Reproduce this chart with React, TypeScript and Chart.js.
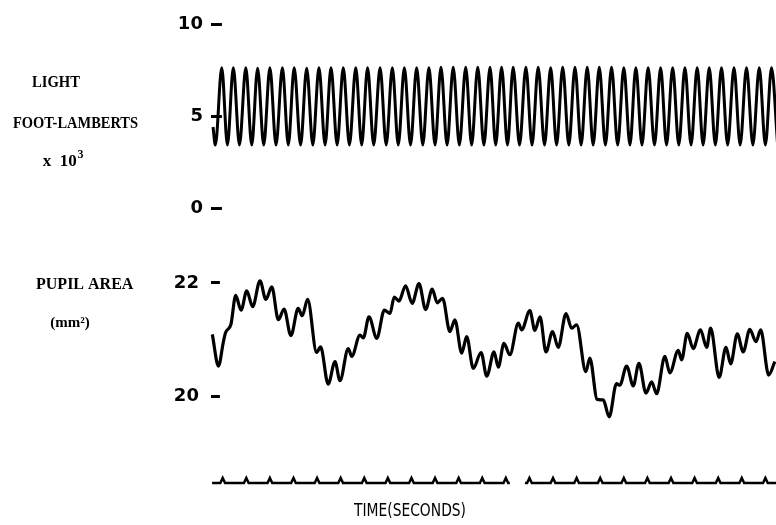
import { useEffect, useRef } from "react";
import { Chart, registerables } from "chart.js";

Chart.register(...registerables);

// ---------- data ----------
// time axis in seconds (one time mark per second)
const timeMin = 0.5;
const timeMax = 24.45;

// LIGHT (foot-lamberts x 10^3): successive turning points of the sinusoidal stimulus
const lightTimes = [
  0.59, 0.69, 0.96, 1.2, 1.45, 1.71, 1.98, 2.23, 2.48, 2.74, 3.0, 3.26, 3.53, 3.78,
  4.03, 4.3, 4.56, 4.82, 5.08, 5.34, 5.59, 5.85, 6.11, 6.37, 6.64, 6.89, 7.14, 7.4,
  7.67, 7.93, 8.19, 8.44, 8.7, 8.96, 9.22, 9.48, 9.74, 10.0, 10.25, 10.51, 10.77, 11.03,
  11.3, 11.55, 11.81, 12.07, 12.33, 12.57, 12.82, 13.07, 13.31, 13.58, 13.85, 14.11,
  14.37, 14.64, 14.9, 15.15, 15.41, 15.67, 15.93, 16.19, 16.45, 16.7, 16.96, 17.22,
  17.48, 17.74, 18.0, 18.26, 18.51, 18.77, 19.03, 19.3, 19.56, 19.81, 20.07, 20.33,
  20.59, 20.85, 21.11, 21.36, 21.62, 21.88, 22.14, 22.4, 22.67, 22.93, 23.2, 23.47,
  23.74, 24.0, 24.26, 24.52,
];
const lightLevels = [
  4.4, 3.42,
  7.62, 3.42, 7.62, 3.42, 7.62, 3.42, 7.6, 3.42, 7.62, 3.42, 7.62, 3.42, 7.62, 3.42, 7.6, 3.42,
  7.62, 3.42, 7.62, 3.42, 7.62, 3.42, 7.62, 3.42, 7.62, 3.42, 7.62, 3.42, 7.62, 3.42, 7.62, 3.42,
  7.62, 3.42, 7.62, 3.42, 7.65, 3.42, 7.65, 3.42, 7.65, 3.42, 7.65, 3.42, 7.65, 3.42, 7.65, 3.42,
  7.65, 3.42, 7.65, 3.42, 7.65, 3.42, 7.62, 3.42, 7.65, 3.42, 7.65, 3.42, 7.65, 3.42, 7.65, 3.42,
  7.65, 3.42, 7.62, 3.42, 7.62, 3.42, 7.62, 3.42, 7.62, 3.42, 7.62, 3.42, 7.62, 3.42, 7.62, 3.42,
  7.62, 3.42, 7.62, 3.42, 7.62, 3.42, 7.62, 3.42, 7.62, 3.42, 7.62, 3.42,
];
const lightTicks = [0, 5, 10];

// PUPIL AREA (mm^2)
const pupilTimes = [
  0.56, 0.82, 1.03, 1.12, 1.35, 1.55, 1.78, 2.02, 2.27, 2.58,
  2.83, 3.08, 3.36, 3.6, 3.89, 4.2, 4.37, 4.6, 4.98, 5.15,
  5.47, 5.76, 5.97, 6.32, 6.47, 6.82, 6.96, 7.2, 7.53, 7.85,
  8.09, 8.27, 8.47, 8.75, 9.03, 9.32, 9.6, 9.88, 10.09, 10.32,
  10.63, 10.84, 11.13, 11.34, 11.62, 11.95, 12.19, 12.5, 12.68, 12.92,
  13.17, 13.53, 13.67, 14.02, 14.23, 14.45, 14.7, 14.98, 15.22, 15.55,
  15.79, 16.0, 16.39, 16.56, 16.87, 17.13, 17.38, 17.69, 17.83, 18.12,
  18.4, 18.64, 18.94, 19.18, 19.39, 19.74, 19.95, 20.31, 20.45, 20.69,
  20.94, 21.25, 21.51, 21.68, 22.04, 22.33, 22.53, 22.81, 23.06, 23.34,
  23.6, 23.8, 24.14, 24.4,
];
const pupilAreas = [
  21.09, 20.53, 20.96, 21.12, 21.27, 21.78, 21.52, 21.86, 21.58, 22.04,
  21.71, 21.93, 21.35, 21.54, 21.07, 21.55, 21.42, 21.71, 20.77, 20.87,
  20.21, 20.61, 20.27, 20.84, 20.7, 21.08, 21.03, 21.4, 21.02, 21.52,
  21.46, 21.75, 21.68, 21.95, 21.64, 21.99, 21.53, 21.89, 21.65, 21.73,
  21.14, 21.35, 20.76, 21.05, 20.49, 20.77, 20.35, 20.78, 20.51, 20.93,
  20.73, 21.29, 21.17, 21.51, 21.16, 21.4, 20.78, 21.14, 20.86, 21.46,
  21.2, 21.26, 20.43, 20.67, 19.94, 19.93, 19.63, 20.22, 20.19, 20.53,
  20.18, 20.58, 20.05, 20.25, 20.04, 20.7, 20.41, 20.81, 20.64, 21.11,
  20.84, 21.17, 20.86, 21.2, 20.33, 20.86, 20.57, 21.1, 20.78, 21.18,
  20.96, 21.17, 20.37, 20.61,
];
const pupilTicks = [20, 22];

// TIME marker trace: one small blip each second, with a break in the trace
const secondMarks = [1, 2, 3, 4, 5, 6, 7, 8, 9, 10, 11, 12, 13, 14, 15, 16, 17, 18, 19, 20, 21, 22, 23, 24];
const markerStart = 0.55;
const markerEnd = 24.45;
const markerGapStart = 13.17;
const markerGapEnd = 13.81;
const markerBlipHalfWidth = 0.1;

// ---------- layout / style ----------
const W = 776;
const H = 525;
const AXIS_W = 210.9;
const INK = "#000";

type Note = { text: string; x: number; y: number; font: string; maxWidth?: number };

function notesPlugin(notes: Note[]) {
  return {
    id: "notes",
    afterDraw(chart: Chart) {
      const ctx = chart.ctx;
      ctx.save();
      ctx.fillStyle = INK;
      ctx.textAlign = "center";
      ctx.textBaseline = "middle";
      for (const n of notes) {
        ctx.font = n.font;
        if (n.maxWidth) ctx.fillText(n.text, n.x, n.y, n.maxWidth);
        else ctx.fillText(n.text, n.x, n.y);
      }
      ctx.restore();
    },
  };
}

const xScale = { type: "linear" as const, min: timeMin, max: timeMax, display: false };

// tick marks point into the plot (negative length), as on the original record
function yAxis(min: number, max: number, ticks: number[], inward: number, pad: number) {
  return {
    type: "linear" as const,
    min,
    max,
    afterBuildTicks: (s: any) => {
      s.ticks = ticks.map((v) => ({ value: v }));
    },
    afterFit: (s: any) => {
      s.width = AXIS_W;
    },
    border: { display: false },
    grid: {
      display: true,
      drawOnChartArea: false,
      drawTicks: true,
      tickLength: -inward,
      tickWidth: 3,
      tickColor: INK,
    },
    ticks: {
      color: INK,
      padding: pad,
      font: { family: "DejaVu Sans", size: 18, weight: "bold" as const },
    },
  };
}

const baseOptions = {
  responsive: false,
  animation: false as const,
  events: [] as any[],
  plugins: { legend: { display: false }, tooltip: { enabled: false } },
};

const typeFont = "bold 16px 'Liberation Serif'";

// canvas placement: light plot area spans page y 24..208, pupil plot area 271.7..424.25
const LIGHT_TOP = -8;
const PUPIL_TOP = 238;
const TIME_TOP = 450;

function lightConfig(): any {
  return {
    type: "line",
    data: {
      datasets: [
        {
          data: lightTimes.map((t, i) => ({ x: t, y: lightLevels[i] })),
          borderColor: INK,
          borderWidth: 3,
          pointRadius: 0,
          cubicInterpolationMode: "monotone",
          clip: false,
          fill: false,
        },
      ],
    },
    options: {
      ...baseOptions,
      layout: { padding: { left: 0, right: 0, top: 32, bottom: 32 } },
      scales: { x: xScale, y: yAxis(0, 10, lightTicks, 11, 19) },
    },
    plugins: [
      notesPlugin([
        { text: "LIGHT", x: 56, y: 83 - LIGHT_TOP, font: typeFont, maxWidth: 48 },
        { text: "FOOT-LAMBERTS", x: 75.5, y: 124 - LIGHT_TOP, font: typeFont, maxWidth: 125 },
        { text: "x  10", x: 59.7, y: 162 - LIGHT_TOP, font: "bold 17px 'Liberation Serif'" },
        { text: "3", x: 80.5, y: 155 - LIGHT_TOP, font: "bold 12px 'Liberation Serif'" },
      ]),
    ],
  };
}

function pupilConfig(): any {
  return {
    type: "line",
    data: {
      datasets: [
        {
          data: pupilTimes.map((t, i) => ({ x: t, y: pupilAreas[i] })),
          borderColor: INK,
          borderWidth: 3.2,
          pointRadius: 0,
          cubicInterpolationMode: "monotone",
          clip: false,
          fill: false,
        },
      ],
    },
    options: {
      ...baseOptions,
      layout: { padding: { left: 0, right: 0, top: 33.7, bottom: 34.75 } },
      scales: { x: xScale, y: yAxis(19.5, 22.2, pupilTicks, 9, 21) },
    },
    plugins: [
      notesPlugin([
        { text: "PUPIL AREA", x: 84.7, y: 284.5 - PUPIL_TOP, font: typeFont, maxWidth: 99 },
        { text: "(mm²)", x: 70, y: 323 - PUPIL_TOP, font: "bold 15px 'Liberation Serif'", maxWidth: 44 },
      ]),
    ],
  };
}

function markerPoints() {
  const pts: { x: number; y: number | null }[] = [{ x: markerStart, y: 0 }];
  let gapDone = false;
  for (const s of secondMarks) {
    if (!gapDone && s > markerGapStart) {
      pts.push({ x: markerGapStart, y: 0 });
      pts.push({ x: (markerGapStart + markerGapEnd) / 2, y: null });
      pts.push({ x: markerGapEnd, y: 0 });
      gapDone = true;
    }
    pts.push({ x: s - markerBlipHalfWidth, y: 0 });
    pts.push({ x: s, y: 1 });
    pts.push({ x: s + markerBlipHalfWidth, y: 0 });
  }
  pts.push({ x: markerEnd, y: 0 });
  return pts;
}

function timeConfig(): any {
  return {
    type: "line",
    data: {
      datasets: [
        {
          data: markerPoints(),
          borderColor: INK,
          borderWidth: 2.5,
          pointRadius: 0,
          tension: 0,
          spanGaps: false,
          clip: false,
          fill: false,
        },
      ],
    },
    options: {
      ...baseOptions,
      layout: { padding: { left: AXIS_W, right: 0, top: 28, bottom: 42 } },
      scales: { x: xScale, y: { type: "linear", min: 0, max: 1, display: false } },
    },
    plugins: [
      notesPlugin([
        { text: "TIME(SECONDS)", x: 410, y: 512 - TIME_TOP, font: "17px 'DejaVu Sans'", maxWidth: 112 },
      ]),
    ],
  };
}

function ChartBox({ top, height, build }: { top: number; height: number; build: () => any }) {
  const ref = useRef<HTMLCanvasElement>(null);
  useEffect(() => {
    if (!ref.current) return;
    const chart = new Chart(ref.current, build());
    return () => chart.destroy();
  }, []);
  return (
    <div style={{ position: "absolute", left: 0, top, width: W, height }}>
      <canvas ref={ref} width={W} height={height} style={{ display: "block", width: W, height }} />
    </div>
  );
}

export default function App() {
  return (
    <div
      style={{
        position: "fixed",
        left: 0,
        top: 0,
        width: W,
        height: H,
        background: "#fff",
        overflow: "hidden",
      }}
    >
      <ChartBox top={LIGHT_TOP} height={248} build={lightConfig} />
      <ChartBox top={PUPIL_TOP} height={221} build={pupilConfig} />
      <ChartBox top={TIME_TOP} height={75} build={timeConfig} />
    </div>
  );
}
